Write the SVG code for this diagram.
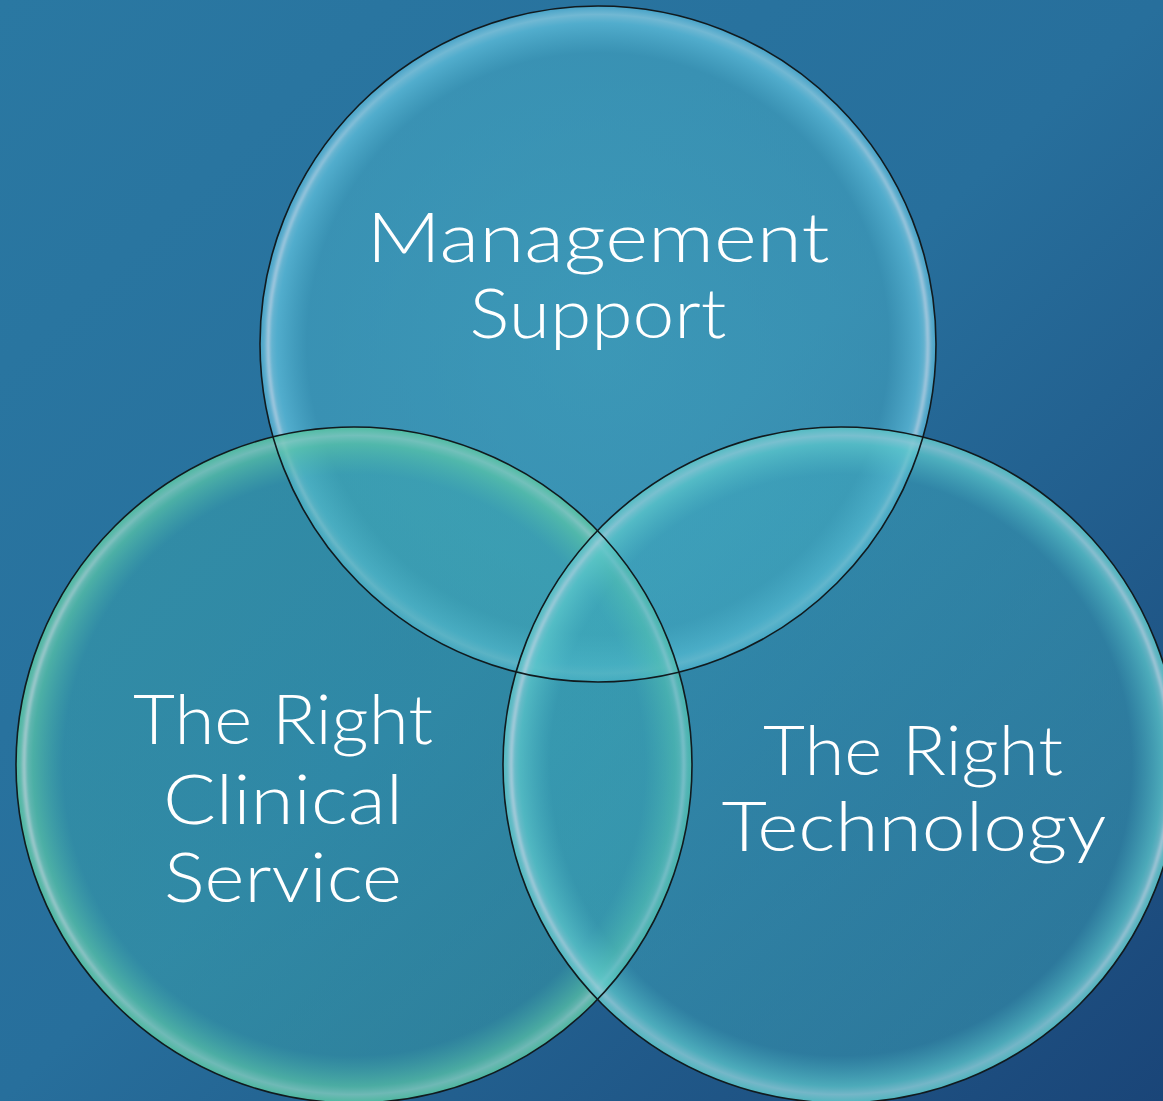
<svg xmlns="http://www.w3.org/2000/svg" width="1163" height="1101" viewBox="0 0 1163 1101">
<defs>
  <linearGradient id="bg" x1="0" y1="0" x2="1" y2="1">
    <stop offset="0" stop-color="#2a78a2"/>
    <stop offset="0.5" stop-color="#276f9c"/>
    <stop offset="1" stop-color="#1a4578"/>
  </linearGradient>
  <radialGradient id="gTop" cx="0.5" cy="0.5" r="0.5">
    <stop offset="0" stop-color="#4cb8cc" stop-opacity="0.55"/>
    <stop offset="0.86" stop-color="#4ab0c8" stop-opacity="0.5"/>
    <stop offset="0.95" stop-color="#5fc0dc" stop-opacity="0.75"/>
    <stop offset="0.975" stop-color="#7ec4dc" stop-opacity="0.85"/>
    <stop offset="1" stop-color="#4aa8cc" stop-opacity="0.9"/>
  </radialGradient>
  <radialGradient id="gLeft" cx="0.5" cy="0.5" r="0.5">
    <stop offset="0" stop-color="#3aaab4" stop-opacity="0.42"/>
    <stop offset="0.86" stop-color="#3eaeb0" stop-opacity="0.42"/>
    <stop offset="0.95" stop-color="#58c4a8" stop-opacity="0.75"/>
    <stop offset="0.975" stop-color="#7cc8bc" stop-opacity="0.85"/>
    <stop offset="1" stop-color="#50c0a0" stop-opacity="0.9"/>
  </radialGradient>
  <radialGradient id="gRight" cx="0.5" cy="0.5" r="0.5">
    <stop offset="0" stop-color="#40b0c2" stop-opacity="0.42"/>
    <stop offset="0.86" stop-color="#42b2c2" stop-opacity="0.42"/>
    <stop offset="0.95" stop-color="#5cc8cc" stop-opacity="0.75"/>
    <stop offset="0.975" stop-color="#84c8d4" stop-opacity="0.85"/>
    <stop offset="1" stop-color="#54c0c4" stop-opacity="0.9"/>
  </radialGradient>
  <linearGradient id="shineGrad" x1="0" y1="0" x2="1" y2="0">
    <stop offset="0" stop-color="#f0e0f0" stop-opacity="0.45"/>
    <stop offset="0.2" stop-color="#f0e0f0" stop-opacity="0"/>
    <stop offset="0.8" stop-color="#f0e0f0" stop-opacity="0"/>
    <stop offset="1" stop-color="#f0e0f0" stop-opacity="0.45"/>
  </linearGradient>
  <filter id="soft" x="-10%" y="-10%" width="120%" height="120%">
    <feGaussianBlur stdDeviation="1.5"/>
  </filter>
</defs>
<style>
  .edge { fill: none; stroke: #111a1e; stroke-width: 1.6; }
  .shine { fill: none; stroke: url(#shineGrad); stroke-width: 3; }
  .label { font-family: "Lato", "Liberation Sans", sans-serif; font-weight: 300; font-size: 68px; fill: #ffffff; text-anchor: middle; }
</style>
<rect x="0" y="0" width="1163" height="1101" fill="url(#bg)"/>

<g id="node-management">
  <circle cx="598" cy="344" r="338" fill="url(#gTop)"/>
  <circle class="shine" cx="598" cy="344" r="330" filter="url(#soft)"/>
</g>
<g id="node-clinical">
  <circle cx="354" cy="765" r="338" fill="url(#gLeft)"/>
  <circle class="shine" cx="354" cy="765" r="330" filter="url(#soft)"/>
</g>
<g id="node-technology">
  <circle cx="841" cy="765" r="338" fill="url(#gRight)"/>
  <circle class="shine" cx="841" cy="765" r="330" filter="url(#soft)"/>
</g>

<g id="connectors">
  <circle class="edge" cx="598" cy="344" r="338"/>
  <circle class="edge" cx="354" cy="765" r="338"/>
  <circle class="edge" cx="841" cy="765" r="338"/>
</g>

<g id="labels">
  <text class="label" x="598" y="262" textLength="463" lengthAdjust="spacingAndGlyphs">Management</text>
  <text class="label" x="598" y="338" textLength="257" lengthAdjust="spacingAndGlyphs">Support</text>
  <text class="label" x="283" y="744" textLength="300" lengthAdjust="spacingAndGlyphs">The Right</text>
  <text class="label" x="283" y="824" textLength="240" lengthAdjust="spacingAndGlyphs">Clinical</text>
  <text class="label" x="283" y="902" textLength="238" lengthAdjust="spacingAndGlyphs">Service</text>
  <text class="label" x="913" y="775" textLength="300" lengthAdjust="spacingAndGlyphs">The Right</text>
  <text class="label" x="914" y="851" textLength="385" lengthAdjust="spacingAndGlyphs">Technology</text>
</g>
</svg>
